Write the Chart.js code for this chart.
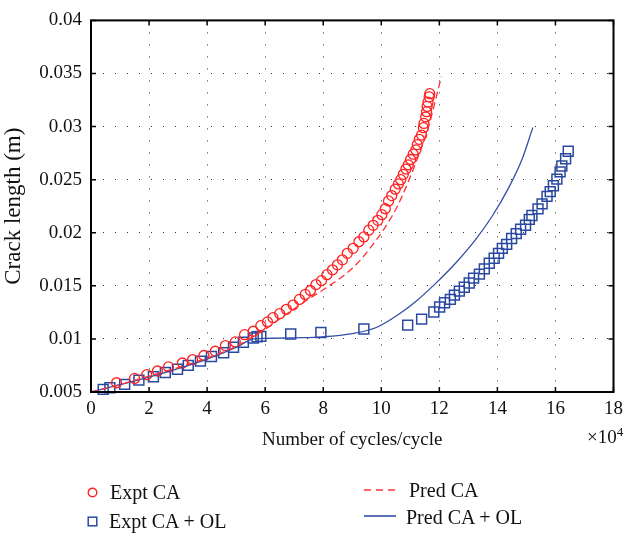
<!DOCTYPE html>
<html>
<head>
<meta charset="utf-8">
<script src="https://cdn.jsdelivr.net/npm/chart.js@4.4.0/dist/chart.umd.min.js"></script>
<style>
  body { margin: 0; background: #fff; }
  #wrap { position: relative; width: 629px; height: 533px; font-family: "Liberation Serif", "DejaVu Serif", serif; color: #111; }
  #chart { position: absolute; left: 0; top: 0; }
  .lg { position: absolute; font-size: 20px; line-height: 24px; white-space: nowrap; }
  .ic { position: absolute; }
  #mult { position: absolute; left: 587px; top: 426px; font-size: 19px; line-height: 22px; }
  #mult sup { font-size: 13px; vertical-align: 7px; line-height: 0; }
</style>
</head>
<body>
<div id="wrap">
  <canvas id="chart" width="629" height="533"></canvas>
  <div id="mult">×10<sup>4</sup></div>

  <svg class="ic" style="left:86px;top:486px" width="13" height="13"><circle cx="6.5" cy="6.5" r="4.3" fill="none" stroke="#ff2020" stroke-width="1.4"/></svg>
  <div class="lg" style="left:110px;top:480px">Expt CA</div>
  <svg class="ic" style="left:86px;top:515px" width="13" height="13"><rect x="2.2" y="2.2" width="8.6" height="8.6" fill="none" stroke="#2a48a0" stroke-width="1.5"/></svg>
  <div class="lg" style="left:109px;top:509px">Expt CA + OL</div>

  <svg class="ic" style="left:362px;top:485px" width="36" height="10"><line x1="2" y1="5" x2="34" y2="5" stroke="#ff3030" stroke-width="1.5" stroke-dasharray="7,5"/></svg>
  <div class="lg" style="left:409px;top:478px">Pred CA</div>
  <svg class="ic" style="left:362px;top:511px" width="36" height="10"><line x1="2" y1="5" x2="34" y2="5" stroke="#3450a6" stroke-width="1.6"/></svg>
  <div class="lg" style="left:406px;top:505px">Pred CA + OL</div>
</div>
<script>
// axis ticks
const xTicks = [0, 2, 4, 6, 8, 10, 12, 14, 16, 18];
const yTicks = [0.005, 0.01, 0.015, 0.02, 0.025, 0.03, 0.035, 0.04];

// series, [cycles (x1e4), crack length (m)]
const exptCA = [
  [0.88,0.00587],[1.50,0.00628],[1.92,0.00663],[2.29,0.00698],[2.67,0.00736],[3.15,0.00773],
  [3.50,0.00804],[3.89,0.00844],[4.28,0.00884],[4.63,0.00937],[4.97,0.00972],[5.29,0.01040],
  [5.59,0.01072],[5.85,0.01125],[6.08,0.01160],[6.27,0.01200],[6.50,0.01238],[6.73,0.01279],
  [6.96,0.01319],[7.18,0.01372],[7.38,0.01419],[7.56,0.01456],[7.75,0.01512],[7.94,0.01549],
  [8.13,0.01605],[8.32,0.01651],[8.49,0.01698],[8.66,0.01745],[8.83,0.01806],[9.03,0.01853],
  [9.23,0.01915],[9.40,0.01961],[9.57,0.02024],[9.72,0.02070],[9.88,0.02117],[10.02,0.02170],
  [10.14,0.02226],[10.25,0.02300],[10.36,0.02350],[10.48,0.02410],[10.59,0.02460],[10.67,0.02500],
  [10.76,0.02550],[10.85,0.02600],[10.93,0.02640],[11.01,0.02690],[11.10,0.02740],[11.19,0.02780],
  [11.24,0.02830],[11.31,0.02880],[11.39,0.02920],[11.45,0.02990],[11.47,0.03030],[11.53,0.03090],
  [11.56,0.03140],[11.58,0.03190],[11.61,0.03230],[11.65,0.03280],[11.67,0.03310]
];
const exptCAOL = [
  [0.42,0.00525],[0.65,0.00540],[1.16,0.00572],[1.65,0.00612],[2.15,0.00643],[2.56,0.00683],
  [2.98,0.00714],[3.35,0.00751],[3.77,0.00791],[4.15,0.00835],[4.57,0.00870],[4.91,0.00922],
  [5.25,0.00968],[5.59,0.01009],[5.72,0.01020],[5.85,0.01024],[6.88,0.01046],[7.92,0.01061],
  [9.40,0.01093],[10.91,0.01130],[11.39,0.01186],[11.81,0.01254],[12.01,0.01300],[12.18,0.01340],
  [12.38,0.01372],[12.52,0.01412],[12.69,0.01450],[12.86,0.01487],[13.03,0.01527],[13.18,0.01573],
  [13.38,0.01610],[13.55,0.01660],[13.72,0.01713],[13.89,0.01760],[14.04,0.01806],[14.17,0.01853],
  [14.32,0.01890],[14.49,0.01946],[14.65,0.01992],[14.80,0.02033],[14.97,0.02070],[15.10,0.02126],
  [15.19,0.02163],[15.40,0.02225],[15.54,0.02272],[15.71,0.02343],[15.82,0.02387],[15.93,0.02443],
  [16.05,0.02505],[16.16,0.02573],[16.22,0.02629],[16.35,0.02697],[16.44,0.02768]
];
const predCA = [
  [0,0.0050],[1,0.0057],[2,0.0065],[3,0.0073],[4,0.0082],[5,0.0093],[5.76,0.0105],[6.10,0.0111],
  [6.56,0.0120],[7.13,0.0131],[7.58,0.0139],[8.15,0.0149],[8.72,0.0160],[9.17,0.0171],[9.63,0.0186],
  [10.08,0.0203],[10.42,0.0218],[10.71,0.0234],[10.99,0.0252],[11.22,0.0268],[11.45,0.0285],
  [11.62,0.0299],[11.73,0.0310],[11.84,0.0322],[11.96,0.0335],[12.07,0.0347]
];
const predCAOL = [
  [0,0.0050],[1,0.0057],[2,0.0064],[3,0.0072],[4,0.0081],[5,0.0092],[5.6,0.0100],[6,0.01005],
  [7,0.0101],[8,0.0102],[9,0.0105],[9.85,0.0111],[10.54,0.0122],[11.22,0.0136],[11.9,0.0153],
  [12.58,0.0172],[13.26,0.0194],[13.83,0.0216],[14.4,0.0243],[14.86,0.0270],[15.22,0.0299]
];

const toPts = arr => arr.map(p => ({ x: p[0], y: p[1] }));
const serif = '"Liberation Serif", "DejaVu Serif", serif';

// box round the plot with inward tick marks on all four sides
const frame = {
  id: 'frame',
  afterDraw(chart) {
    const { ctx, chartArea: a, scales } = chart;
    const len = 5;
    ctx.save();
    ctx.strokeStyle = '#000';
    ctx.lineWidth = 1.5;
    ctx.beginPath();
    xTicks.forEach(v => {
      const px = scales.x.getPixelForValue(v);
      ctx.moveTo(px, a.bottom); ctx.lineTo(px, a.bottom - len);
      ctx.moveTo(px, a.top); ctx.lineTo(px, a.top + len);
    });
    yTicks.forEach(v => {
      const py = scales.y.getPixelForValue(v);
      ctx.moveTo(a.left, py); ctx.lineTo(a.left + len, py);
      ctx.moveTo(a.right, py); ctx.lineTo(a.right - len, py);
    });
    ctx.stroke();
    ctx.lineWidth = 2;
    ctx.strokeRect(a.left, a.top, a.right - a.left, a.bottom - a.top);
    ctx.restore();
  }
};

new Chart(document.getElementById('chart'), {
  type: 'scatter',
  data: {
    datasets: [
      {
        label: 'Pred CA', data: toPts(predCA), showLine: true,
        borderColor: '#ff3030', borderWidth: 1.3, borderDash: [7, 4],
        pointRadius: 0, cubicInterpolationMode: 'monotone'
      },
      {
        label: 'Pred CA + OL', data: toPts(predCAOL), showLine: true,
        borderColor: '#3450a6', borderWidth: 1.3,
        pointRadius: 0, cubicInterpolationMode: 'monotone'
      },
      {
        label: 'Expt CA', data: toPts(exptCA), clip: false,
        pointStyle: 'circle', pointRadius: 5, pointBorderWidth: 1.3,
        pointBorderColor: '#ff2020', pointBackgroundColor: 'rgba(0,0,0,0)'
      },
      {
        label: 'Expt CA + OL', data: toPts(exptCAOL), clip: false,
        pointStyle: 'rect', pointRadius: 7, pointBorderWidth: 1.5,
        pointBorderColor: '#2a48a0', pointBackgroundColor: 'rgba(0,0,0,0)'
      }
    ]
  },
  options: {
    responsive: false,
    animation: false,
    layout: { padding: { left: 0, top: 16, right: 10, bottom: 81 } },
    plugins: { legend: { display: false }, tooltip: { enabled: false } },
    scales: {
      x: {
        type: 'linear', min: 0, max: 18,
        afterBuildTicks: s => { s.ticks = xTicks.map(v => ({ value: v })); },
        afterFit: s => { s.height = 60; },
        ticks: { color: '#111', padding: 6, font: { family: serif, size: 19 }, callback: v => String(v) },
        grid: { color: '#333', lineWidth: 1, drawTicks: false },
        border: { display: false, dash: [1, 11] },
        title: { display: true, text: 'Number of cycles/cycle', color: '#111', font: { family: serif, size: 19 }, padding: { top: 0, bottom: 1 } }
      },
      y: {
        type: 'linear', min: 0.005, max: 0.04,
        afterBuildTicks: s => { s.ticks = yTicks.map(v => ({ value: v })); },
        afterFit: s => { s.width = 91; },
        ticks: { color: '#111', padding: 9, font: { family: serif, size: 19 }, callback: v => String(+v.toFixed(3)) },
        grid: { color: '#333', lineWidth: 1, drawTicks: false },
        border: { display: false, dash: [1, 11] },
        title: { display: true, text: 'Crack length (m)', color: '#111', font: { family: serif, size: 23 }, padding: { top: 0, bottom: 0 } }
      }
    }
  },
  plugins: [frame]
});
</script>
</body>
</html>
